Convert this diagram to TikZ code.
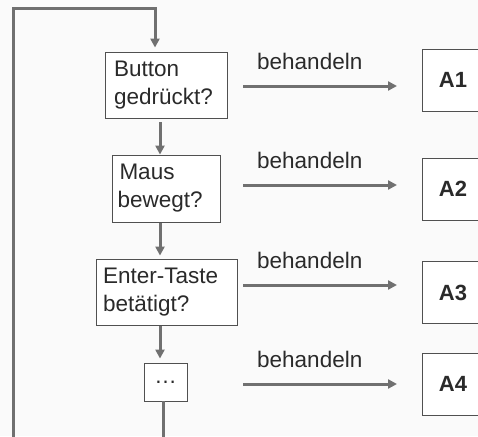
\documentclass[tikz,border=0pt]{standalone}
\usepackage{fontspec}
\setmainfont{Liberation Sans}
\usetikzlibrary{arrows.meta}
\definecolor{bgcol}{HTML}{FAFAFA}
\definecolor{linecol}{HTML}{707070}
\definecolor{boxcol}{HTML}{505050}
\definecolor{txtcol}{HTML}{2A2A2A}
\begin{document}
\begin{tikzpicture}[x=1pt,y=1pt,
  qbox/.style={draw=boxcol, line width=0.9pt, fill=white, text=txtcol, align=left,
    font=\fontsize{22.5}{28}\selectfont, inner ysep=0pt},
  abox/.style={draw=boxcol, line width=0.9pt, fill=white, text=txtcol,
    minimum width=62pt, minimum height=62pt, inner sep=0pt,
    font=\fontsize{22}{26}\selectfont\bfseries},
  lbl/.style={text=txtcol, anchor=base west, inner sep=0pt,
    font=\fontsize{22.5}{26}\selectfont},
  wire/.style={draw=linecol, line width=3pt},
  arr/.style={wire, -{Triangle[length=9pt,width=9pt]}}
]
\useasboundingbox (0,0) rectangle (478,-436);
\fill[bgcol] (0,0) rectangle (478,-436);
\clip (0,0) rectangle (478,-436);

% question boxes
\node[qbox, text width=104pt, inner xsep=9pt, minimum height=66pt] (b1) at (166,-85) {Button\\gedrückt?};
\node[qbox, text width=97pt, inner xsep=5.5pt, minimum height=67pt] (b2) at (166,-188.5) {\hspace*{2pt}Maus\\bewegt?};
\node[qbox, text width=127pt, inner xsep=7pt, minimum height=66pt] (b3) at (166.5,-292) {Enter-Taste\\betätigt?};
\node[qbox, align=center, minimum width=43pt, minimum height=38pt, inner xsep=0pt] (b4) at (165.5,-382) {…};

% action boxes
\node[abox] (a1) at (453,-80) {A1};
\node[abox] (a2) at (453,-189) {A2};
\node[abox] (a3) at (453,-292.5) {A3};
\node[abox] (a4) at (453,-384) {A4};

% control flow down the chain
\coordinate (xa) at (160,0);
\draw[arr, shorten <=4pt, shorten >=0pt] (b1.south -| xa) -- (b2.north -| xa);
\draw[arr, shorten <=1pt, shorten >=3pt] (b2.south -| xa) -- (b3.north -| xa);
\draw[arr, shorten <=1pt, shorten >=4pt] (b3.south -| xa) -- (b4.north -| xa);

% loop back to the top
\coordinate (exit) at (163,-445);
\coordinate (back) at (13.5,-445);
\coordinate (entry) at (155,-9);
\draw[wire] (b4.south -| exit) -- (exit);
\draw[arr, shorten >=4pt] (back) |- (entry) -- (entry |- b1.north);

% handler arrows with labels
\foreach \i/\y in {1/86, 2/185, 3/285, 4/384}{
  \coordinate (s\i) at (243,-\y);
  \coordinate (e\i) at (397,-\y);
  \draw[arr] (s\i) -- (e\i);
  \node[lbl] (l\i) at ([shift={(14pt,17pt)}]s\i) {behandeln};
}
\end{tikzpicture}
\end{document}
